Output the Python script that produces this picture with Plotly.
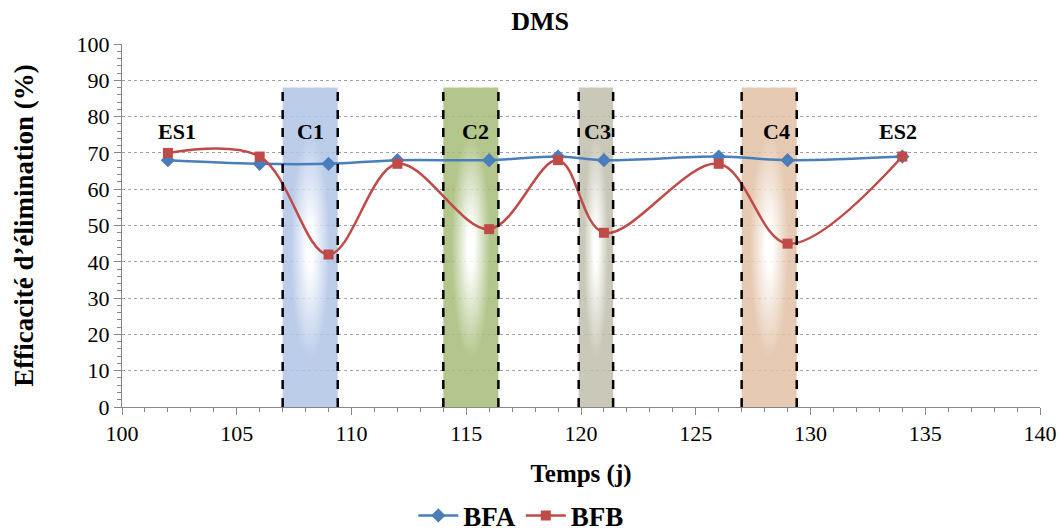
import plotly.graph_objects as go

# Data
days = [102, 106, 109, 112, 116, 119, 121, 126, 129, 134]
bfa = [68, 67, 67, 68, 68, 69, 68, 69, 68, 69]
bfb = [70, 69, 42, 67, 49, 68, 48, 67, 45, 69]

band_names = ["C1", "C2", "C3", "C4"]
band_start = [107.0, 114.0, 119.9, 127.0]
band_end = [109.4, 116.4, 121.4, 129.4]
band_top = [88, 88, 88, 88]
band_colors = ["rgb(176,196,230)", "rgb(165,188,120)", "rgb(192,190,172)", "rgb(225,192,165)"]

label_text = ["ES1", "C1", "C2", "C3", "C4", "ES2"]
label_x = [102.4, 108.2, 115.4, 120.7, 128.5, 133.8]
label_y = [76, 76, 76, 76, 76, 76]

FONT = "Liberation Serif"
AXC = "rgb(134,134,134)"

fig = go.Figure()

# Shaded bands with radial gradient
for s, e, t, c in zip(band_start, band_end, band_top, band_colors):
    fig.add_trace(go.Scatter(
        x=[s, e, e, s, s], y=[0, 0, t, t, 0],
        mode="lines", fill="toself", line=dict(width=0),
        fillgradient=dict(type="radial",
                          colorscale=[[0, "rgb(255,255,255)"], [0.12, "rgb(255,255,255)"],
                                      [0.7, c], [1, c]]),
        opacity=0.85,
        hoverinfo="skip", showlegend=False,
    ))
    for xv in (s, e):
        fig.add_shape(type="line", x0=xv, x1=xv, y0=0, y1=t, xref="x", yref="y",
                      line=dict(color="black", width=2.5, dash="dash"))

fig.add_trace(go.Scatter(
    x=days, y=bfa, name="BFA", mode="lines+markers",
    line=dict(color="rgb(74,126,187)", width=2.5, shape="spline", smoothing=1),
    marker=dict(symbol="diamond", size=11, color="rgb(74,126,187)"),
))
fig.add_trace(go.Scatter(
    x=days, y=bfb, name="BFB", mode="lines+markers",
    line=dict(color="rgb(190,75,72)", width=2.5, shape="spline", smoothing=1),
    marker=dict(symbol="square", size=10, color="rgb(190,75,72)"),
))

for txt, xv, yv in zip(label_text, label_x, label_y):
    fig.add_annotation(x=xv, y=yv, text="<b>%s</b>" % txt, showarrow=False,
                       font=dict(family=FONT, size=22, color="black"))

fig.update_layout(
    width=1059, height=532,
    margin=dict(l=122, r=19, t=44, b=125, autoexpand=False),
    paper_bgcolor="white", plot_bgcolor="white",
    font=dict(family=FONT, size=22, color="black"),
    title=dict(text="<b>DMS</b>", x=0.51, xanchor="center", y=0.9605, yanchor="middle",
               font=dict(family=FONT, size=26)),
    showlegend=True,
    legend=dict(orientation="h", x=0.435, xanchor="center", y=-0.30, yanchor="middle",
                font=dict(family=FONT, size=27, weight="bold"), itemwidth=40,
                traceorder="normal"),
    xaxis=dict(range=[100, 140], dtick=5, tick0=100, showgrid=False,
               showline=True, linecolor=AXC, linewidth=1,
               ticks="outside", ticklen=7, tickcolor=AXC,
               minor=dict(dtick=1, ticks="outside", ticklen=4, tickcolor=AXC),
               title=dict(text="<b>Temps (j)</b>", font=dict(family=FONT, size=25), standoff=19),
               automargin=False,
               zeroline=False, tickfont=dict(size=22)),
    yaxis=dict(range=[0, 100], dtick=10, showgrid=True, gridcolor="rgb(160,160,160)",
               griddash="dot", gridwidth=1,
               showline=True, linecolor=AXC, linewidth=1,
               ticks="outside", ticklen=7, tickcolor=AXC,
               minor=dict(dtick=2, ticks="outside", ticklen=4, tickcolor=AXC, showgrid=False),
               title=dict(text="<b>Efficacité d’élimination (%)</b>", font=dict(family=FONT, size=27), standoff=35),
               automargin=False,
               zeroline=False, tickfont=dict(size=22)),
)

fig.write_html("out.html", config={"displayModeBar": False},
               post_script="document.body.style.margin='0px';")
